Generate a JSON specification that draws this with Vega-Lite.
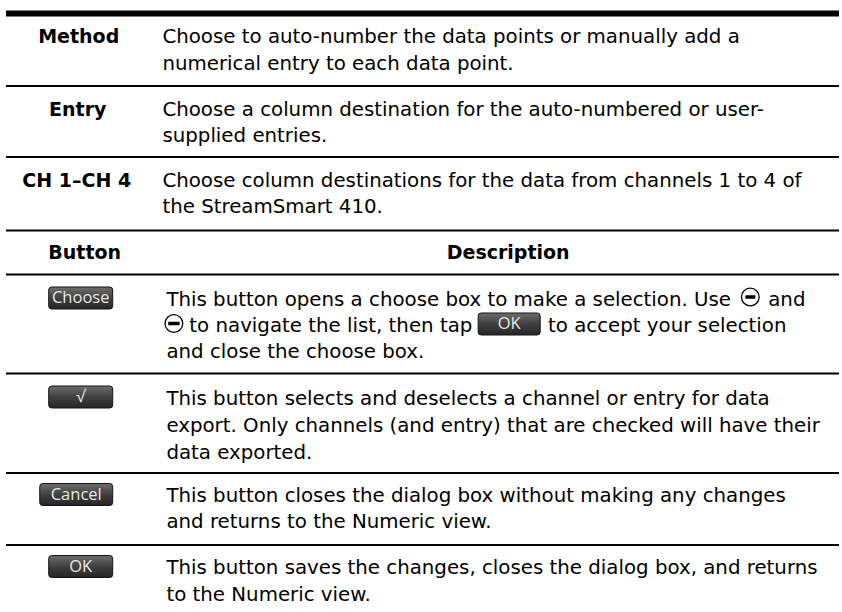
{
  "$schema": "https://vega.github.io/schema/vega-lite/v6.json",
  "width": 842,
  "height": 612,
  "autosize": {"type": "fit", "contains": "padding"},
  "padding": 0,
  "background": "white",
  "config": {"view": {"stroke": null}},
  "datasets": {
    "rules": [
      {"y": 13.5, "kind": "thick"},
      {"y": 86, "kind": "thin"},
      {"y": 157, "kind": "thin"},
      {"y": 230.5, "kind": "thin"},
      {"y": 274.5, "kind": "thin"},
      {"y": 373.5, "kind": "thin"},
      {"y": 473, "kind": "thin"},
      {"y": 545, "kind": "thin"}
    ],
    "labels": [
      {"x": 79, "y": 43, "text": "Method"},
      {"x": 78, "y": 116, "text": "Entry"},
      {"x": 77, "y": 187, "text": "CH 1–CH 4"},
      {"x": 85, "y": 259, "text": "Button"},
      {"x": 510, "y": 259, "text": "Description"}
    ],
    "desc": [
      {"x": 163, "y": 43, "text": "Choose to auto-number the data points or manually add a"},
      {"x": 163, "y": 70, "text": "numerical entry to each data point."},
      {"x": 163, "y": 116, "text": "Choose a column destination for the auto-numbered or user-"},
      {"x": 163, "y": 142, "text": "supplied entries."},
      {"x": 163, "y": 187, "text": "Choose column destinations for the data from channels 1 to 4 of"},
      {"x": 163, "y": 213, "text": "the StreamSmart 410."},
      {"x": 167, "y": 305.5, "text": "This button opens a choose box to make a selection. Use"},
      {"x": 771, "y": 305.5, "text": "and"},
      {"x": 190, "y": 332, "text": "to navigate the list, then tap"},
      {"x": 550, "y": 332, "text": "to accept your selection"},
      {"x": 167, "y": 358, "text": "and close the choose box."},
      {"x": 167, "y": 405, "text": "This button selects and deselects a channel or entry for data"},
      {"x": 167, "y": 432, "text": "export. Only channels (and entry) that are checked will have their"},
      {"x": 167, "y": 459, "text": "data exported."},
      {"x": 167, "y": 502, "text": "This button closes the dialog box without making any changes"},
      {"x": 167, "y": 528, "text": "and returns to the Numeric view."},
      {"x": 167, "y": 574, "text": "This button saves the changes, closes the dialog box, and returns"},
      {"x": 167, "y": 601, "text": "to the Numeric view."}
    ],
    "buttons": [
      {"x": 81, "y": 298, "label": "Choose", "kind": "std"},
      {"x": 81, "y": 397, "label": "√", "kind": "std"},
      {"x": 76.5, "y": 494.5, "label": "Cancel", "kind": "wide"},
      {"x": 81, "y": 566.5, "label": "OK", "kind": "std"},
      {"x": 511, "y": 324, "label": "OK", "kind": "inline"}
    ],
    "circles": [
      {"x": 753, "y": 297, "dir": "up"},
      {"x": 174.5, "y": 323.5, "dir": "down"}
    ]
  },
  "layer": [
    {
      "data": {"name": "rules"},
      "mark": {"type": "rule", "color": "black", "strokeCap": "butt"},
      "encoding": {
        "x": {"datum": 6, "type": "quantitative", "scale": {"domain": [0, 842], "nice": false, "zero": false}, "axis": null},
        "x2": {"datum": 842},
        "y": {"field": "y", "type": "quantitative", "scale": {"domain": [0, 612], "nice": false, "zero": false, "reverse": true}, "axis": null},
        "strokeWidth": {"field": "kind", "type": "nominal", "scale": {"domain": ["thick", "thin"], "range": [6, 2]}, "legend": null}
      }
    },
    {
      "data": {"name": "labels"},
      "mark": {"type": "text", "align": "center", "baseline": "alphabetic", "font": "DejaVu Sans", "fontWeight": "bold", "fontSize": 19, "color": "black"},
      "encoding": {
        "x": {"field": "x", "type": "quantitative"},
        "y": {"field": "y", "type": "quantitative"},
        "text": {"field": "text"}
      }
    },
    {
      "data": {"name": "desc"},
      "mark": {"type": "text", "align": "left", "baseline": "alphabetic", "font": "DejaVu Sans", "fontSize": 19.8, "color": "black"},
      "encoding": {
        "x": {"field": "x", "type": "quantitative"},
        "y": {"field": "y", "type": "quantitative"},
        "text": {"field": "text"}
      }
    },
    {
      "data": {"name": "buttons"},
      "mark": {
        "type": "point",
        "filled": true,
        "size": 4096,
        "strokeWidth": 1,
        "stroke": "#151515",
        "opacity": 1,
        "fill": {"gradient": "linear", "x1": 0, "y1": 0, "x2": 0, "y2": 1, "stops": [{"offset": 0, "color": "#6e6e6e"}, {"offset": 0.5, "color": "#404040"}, {"offset": 1, "color": "#252525"}]}
      },
      "encoding": {
        "x": {"field": "x", "type": "quantitative"},
        "y": {"field": "y", "type": "quantitative"},
        "shape": {
          "field": "kind",
          "type": "nominal",
          "scale": {
            "domain": ["std", "wide", "inline"],
            "range": [
              "M-0.906,-0.344 H0.906 Q1,-0.344 1,-0.25 V0.25 Q1,0.344 0.906,0.344 H-0.906 Q-1,0.344 -1,0.25 V-0.25 Q-1,-0.344 -0.906,-0.344 Z",
              "M-1.046,-0.344 H1.046 Q1.14,-0.344 1.14,-0.25 V0.25 Q1.14,0.344 1.046,0.344 H-1.046 Q-1.14,0.344 -1.14,0.25 V-0.25 Q-1.14,-0.344 -1.046,-0.344 Z",
              "M-0.875,-0.344 H0.875 Q0.969,-0.344 0.969,-0.25 V0.25 Q0.969,0.344 0.875,0.344 H-0.875 Q-0.969,0.344 -0.969,0.25 V-0.25 Q-0.969,-0.344 -0.875,-0.344 Z"
            ]
          },
          "legend": null
        }
      }
    },
    {
      "data": {"name": "buttons"},
      "mark": {"type": "text", "align": "center", "baseline": "middle", "font": "Open Sans", "fontSize": 16.5, "color": "#e8e8e8"},
      "encoding": {
        "x": {"field": "x", "type": "quantitative"},
        "y": {"field": "y", "type": "quantitative"},
        "text": {"field": "label"}
      }
    },
    {
      "data": {"name": "circles"},
      "mark": {"type": "point", "shape": "circle", "size": 314, "filled": false, "stroke": "black", "strokeWidth": 1.3, "opacity": 1},
      "encoding": {
        "x": {"field": "x", "type": "quantitative"},
        "y": {"field": "y", "type": "quantitative"}
      }
    },
    {
      "data": {"name": "circles"},
      "mark": {"type": "point", "filled": true, "size": 100, "color": "black", "opacity": 1, "strokeWidth": 0},
      "encoding": {
        "x": {"field": "x", "type": "quantitative"},
        "y": {"field": "y", "type": "quantitative"},
        "shape": {"field": "dir", "type": "nominal", "scale": {"domain": ["up", "down"], "range": ["M-0.95,0.5 L0.95,0.5 L0,-0.75 Z", "M-0.95,-0.5 L0.95,-0.5 L0,0.75 Z"]}, "legend": null}
      }
    }
  ]
}
